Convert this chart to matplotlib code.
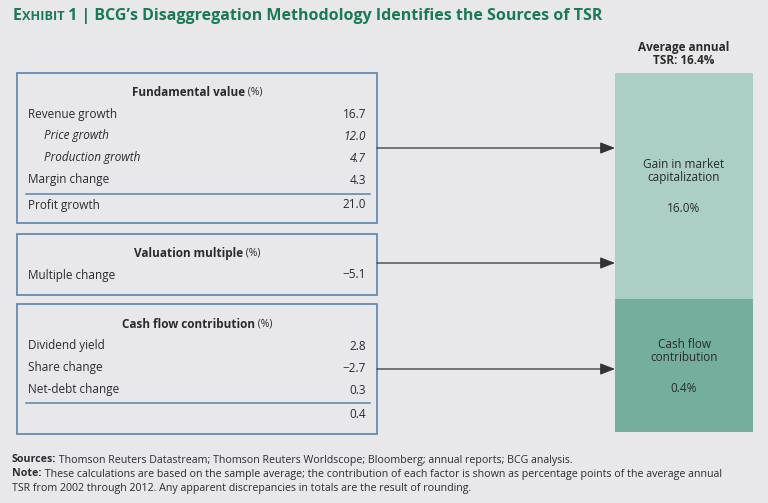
import matplotlib
matplotlib.use("Agg")
import matplotlib.pyplot as plt
from matplotlib.patches import Rectangle

# ---------------- data ----------------
fund_labels = ["Revenue growth", "Price growth", "Production growth", "Margin change"]
fund_values = ["16.7", "12.0", "4.7", "4.3"]
fund_italic = [False, True, True, False]
fund_total_label = "Profit growth"
fund_total = "21.0"

val_labels = ["Multiple change"]
val_values = ["\u22125.1"]

cash_labels = ["Dividend yield", "Share change", "Net-debt change"]
cash_values = ["2.8", "\u22122.7", "0.3"]
cash_total = "0.4"

tsr_total = "16.4%"
seg_labels = ["Gain in market\ncapitalization", "Cash flow\ncontribution"]
seg_values = ["16.0%", "0.4%"]

sources_text = " Thomson Reuters Datastream; Thomson Reuters Worldscope; Bloomberg; annual reports; BCG analysis."
note_text = " These calculations are based on the sample average; the contribution of each factor is shown as percentage points of the average annual"
note_text2 = "TSR from 2002 through 2012. Any apparent discrepancies in totals are the result of rounding."

# ---------------- style ----------------
BG = "#e8e8ea"
GREEN_T = "#1b7a56"
BOX_EDGE = "#5b82aa"
SEG_COLORS = ["#abcfc4", "#74ae9d"]
TXT = "#2b2b2b"
FONT = ["Open Sans", "DejaVu Sans"]

W, H = 768, 503
fig = plt.figure(figsize=(W / 100, H / 100), dpi=100, facecolor=BG)
ax = fig.add_axes([0, 0, 1, 1])
ax.set_xlim(0, W)
ax.set_ylim(H, 0)
ax.axis("off")
ax.set_facecolor(BG)

def t(x, y, s, **kw):
    kw.setdefault("family", FONT)
    kw.setdefault("color", TXT)
    kw.setdefault("va", "center")
    kw.setdefault("fontsize", 8.5)
    return ax.text(x, y, s, **kw)

fig.canvas.draw()
r = fig.canvas.get_renderer()

def width(tx):
    return tx.get_window_extent(renderer=r).width

# ---------------- title (small caps "EXHIBIT") ----------------
pieces = [("E", 11.5), ("XHIBIT", 9.2), (" 1 | BCG\u2019s Disaggregation Methodology Identifies the Sources of TSR", 11.5)]
x = 13
for s, fs in pieces:
    tx = t(x, 20, s, fontsize=fs, fontweight="bold", color=GREEN_T, va="baseline")
    x += width(tx)

# ---------------- boxes ----------------
bx0, bx1 = 17, 377
lx, lxi, vx = 28, 44, 366

def box(y0, y1):
    ax.add_patch(Rectangle((bx0, y0), bx1 - bx0, y1 - y0, fill=False,
                           edgecolor=BOX_EDGE, lw=1.2))

def header(y, name):
    tx = t(0, y, name, fontweight="bold", ha="left")
    w1 = width(tx)
    tx2 = t(0, y, " (%)", fontsize=7.5, ha="left")
    w2 = width(tx2)
    start = (bx0 + bx1) / 2 - (w1 + w2) / 2
    tx.set_x(start)
    tx2.set_x(start + w1)

# Box 1
box(73, 223)
header(92, "Fundamental value")
for i, (lab, val, it) in enumerate(zip(fund_labels, fund_values, fund_italic)):
    y = 114 + 22 * i
    style = "italic" if it else "normal"
    t(lxi if it else lx, y, lab, style=style)
    t(vx, y, val, ha="right", style=style)
ax.plot([26, 370], [194, 194], color=BOX_EDGE, lw=1.1)
t(lx, 205, fund_total_label)
t(vx, 205, fund_total, ha="right")

# Box 2
box(234, 295)
header(253, "Valuation multiple")
for i, (lab, val) in enumerate(zip(val_labels, val_values)):
    t(lx, 275 + 22 * i, lab)
    t(vx, 275 + 22 * i, val, ha="right")

# Box 3
box(304, 434)
header(324, "Cash flow contribution")
for i, (lab, val) in enumerate(zip(cash_labels, cash_values)):
    y = 346 + 22 * i
    t(lx, y, lab)
    t(vx, y, val, ha="right")
ax.plot([26, 370], [403, 403], color=BOX_EDGE, lw=1.1)
t(vx, 414, cash_total, ha="right")

# ---------------- right stacked bar ----------------
rx0, rx1 = 615, 753
seg_bounds = [(73, 299), (299, 432)]
for (y0, y1), c in zip(seg_bounds, SEG_COLORS):
    ax.add_patch(Rectangle((rx0, y0), rx1 - rx0, y1 - y0, facecolor=c, edgecolor="none"))
cx = (rx0 + rx1) / 2
t(cx, 54, "Average annual\nTSR: " + tsr_total, ha="center", fontweight="bold",
  linespacing=0.95)
t(cx, 171, seg_labels[0], ha="center", linespacing=1.0)
t(cx, 208, seg_values[0], ha="center")
t(cx, 351, seg_labels[1], ha="center", linespacing=1.0)
t(cx, 388, seg_values[1], ha="center")

# ---------------- arrows ----------------
for y in [148, 263, 369]:
    ax.annotate("", xy=(rx0, y), xytext=(bx1, y),
                arrowprops=dict(arrowstyle="-|>,head_length=0.9,head_width=0.35",
                                color="#333333", lw=0.9, shrinkA=0, shrinkB=0))

# ---------------- footnotes ----------------
FN = ["Open Sans", "DejaVu Sans"]
fs = 7.6
# fit the long note line into ~710 px
probe_a = t(0, -50, "Note:", family=FN, fontweight="bold", fontsize=fs, ha="left")
probe_b = t(0, -50, note_text, family=FN, fontsize=fs, ha="left")
total_w = width(probe_a) + width(probe_b)
probe_a.remove(); probe_b.remove()
fs = fs * 708 / total_w

def rich(y, bold, rest):
    a = t(12, y, bold, family=FN, fontweight="bold", fontsize=fs, ha="left")
    w = width(a)
    t(12 + w, y, rest, family=FN, fontsize=fs, ha="left")

rich(460, "Sources:", sources_text)
rich(474, "Note:", note_text)
t(12, 488, note_text2, family=FN, fontsize=fs, ha="left")

fig.savefig("out.png", dpi=100, facecolor=BG)
